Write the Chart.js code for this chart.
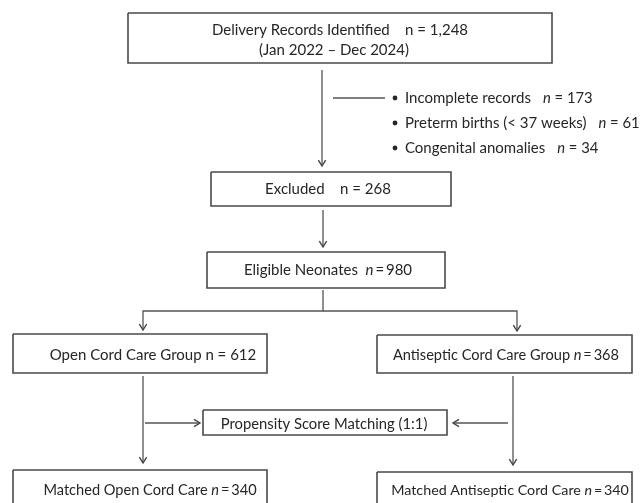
<!DOCTYPE html>
<html>
<head>
<meta charset="utf-8">
<script src="https://cdn.jsdelivr.net/npm/chart.js@4"></script>
<style>
  body{margin:0;background:#fff;}
  #wrap{width:640px;height:503px;}
</style>
</head>
<body>
<div id="wrap"><canvas id="flow" width="640" height="503"></canvas></div>
<script>
// flow stages and their counts
const stageLabels=["Delivery Records Identified","Excluded","Eligible Neonates","Open Cord Care Group","Antiseptic Cord Care Group","Propensity Score Matching (1:1)","Matched Open Cord Care","Matched Antiseptic Cord Care"];
const stageCounts=[1248,268,980,612,368,null,340,340];
const periodLabel="(Jan 2022 \u2013 Dec 2024)";
// exclusion reasons
const exclusionReasons=["Incomplete records","Preterm births (< 37 weeks)","Congenital anomalies"];
const exclusionCounts=[173,61,34];

// layout, in axis units (x 0..640, y 0..503 top-down)
const boxRects=[[128,13,552,63],[211,172,451,206],[207,252,445,288],[13,334,267,373],[377,335,632,373],[203,410,447,435],[13,470,267,522],[377,472,632,522]];
const textPos=[[340,30],[328,189],[328,270],[153,355],[506,355],[324,424],[150,490],[510,490]];
const textSize=[15,15,15,15,14.6,14.8,14.6,14.3];
const countGap=["    ","    ","  "," "," ","",  " "," "];
const italicN=[false,false,true,false,true,false,true,true];
const bulletX=395, bulletY=[98,123,148];
const connectors=[
  {pts:[[322,70],[322,166]],arrow:true},
  {pts:[[333,98],[385,98]],arrow:false},
  {pts:[[323,210],[323,247]],arrow:true},
  {pts:[[323,290],[323,311],[143,311],[143,330]],arrow:true},
  {pts:[[323,311],[517,311],[517,331]],arrow:true},
  {pts:[[143,376],[143,463]],arrow:true},
  {pts:[[145,423],[200,423]],arrow:true},
  {pts:[[513,376],[513,465]],arrow:true},
  {pts:[[508,423],[453,423]],arrow:true}
];

const FONT="Lato, 'Open Sans', sans-serif";
const TEXT="#262626";

const fmt=v=>v.toLocaleString("en-US");

const datasets=[];
boxRects.forEach(r=>{
  datasets.push({type:"line",data:[{x:r[0],y:r[1]},{x:r[2],y:r[1]},{x:r[2],y:r[3]},{x:r[0],y:r[3]},{x:r[0],y:r[1]}],
    borderColor:"#4a4a4a",borderWidth:1.6,pointRadius:0,tension:0,fill:false,borderJoinStyle:"miter"});
});
connectors.forEach(c=>{
  datasets.push({type:"line",data:c.pts.map(p=>({x:p[0],y:p[1]})),arrow:c.arrow,
    borderColor:"#555",borderWidth:1.3,pointRadius:0,tension:0,fill:false});
});

function setFont(ctx,it,size){ctx.font=(it?"italic ":"")+(size||15)+"px "+FONT;}

function drawRich(ctx,parts,cx,cy,size){
  // parts: [text, italic]
  let w=0;
  parts.forEach(p=>{setFont(ctx,p[1],size);w+=ctx.measureText(p[0]).width;});
  let x=cx-w/2;
  parts.forEach(p=>{setFont(ctx,p[1],size);ctx.fillText(p[0],x,cy);x+=ctx.measureText(p[0]).width;});
}

function countParts(i){
  const v=fmt(stageCounts[i]);
  if(italicN[i]) return [[countGap[i],false],["n",true],["\u2009=\u2009"+v,false]];
  return [[countGap[i]+"n = "+v,false]];
}

const flowPlugin={
  id:"flowText",
  afterDatasetsDraw(chart){
    const ctx=chart.ctx, xs=chart.scales.x, ys=chart.scales.y;
    const px=v=>xs.getPixelForValue(v), py=v=>ys.getPixelForValue(v);
    ctx.save();
    // arrowheads
    chart.data.datasets.forEach(ds=>{
      if(!ds.arrow) return;
      const n=ds.data.length, a=ds.data[n-2], b=ds.data[n-1];
      const x1=px(a.x),y1=py(a.y),x2=px(b.x),y2=py(b.y);
      const ang=Math.atan2(y2-y1,x2-x1), L=7, s=0.55;
      ctx.strokeStyle="#444";ctx.lineWidth=1.4;
      ctx.beginPath();
      ctx.moveTo(x2-L*Math.cos(ang-s),y2-L*Math.sin(ang-s));
      ctx.lineTo(x2,y2);
      ctx.lineTo(x2-L*Math.cos(ang+s),y2-L*Math.sin(ang+s));
      ctx.stroke();
    });
    // box texts
    ctx.fillStyle=TEXT;ctx.textBaseline="middle";ctx.textAlign="left";
    stageLabels.forEach((lab,i)=>{
      let parts=[[lab,false]];
      if(stageCounts[i]!=null) parts=parts.concat(countParts(i));
      drawRich(ctx,parts,px(textPos[i][0]),py(textPos[i][1]),textSize[i]);
    });
    drawRich(ctx,[[periodLabel,false]],px(334),py(50),15);
    // exclusion list
    exclusionReasons.forEach((r,i)=>{
      const y=py(bulletY[i]);
      ctx.beginPath();ctx.arc(px(bulletX),y,2.4,0,Math.PI*2);ctx.fill();
      setFont(ctx,false,15);
      const x0=px(bulletX+10);
      ctx.fillText(r,x0,y);
      const w=ctx.measureText(r).width;
      setFont(ctx,true,14.8);
      ctx.fillText("n",x0+w+12,y);
      const wn=ctx.measureText("n").width;
      setFont(ctx,false,14.8);
      ctx.fillText(" = "+exclusionCounts[i],x0+w+12+wn,y);
    });
    ctx.restore();
  }
};

new Chart(document.getElementById("flow"),{
  type:"scatter",
  data:{datasets:datasets},
  options:{
    responsive:false,animation:false,
    layout:{padding:0},
    plugins:{legend:{display:false},tooltip:{enabled:false}},
    scales:{
      x:{type:"linear",min:0,max:640,display:false},
      y:{type:"linear",min:0,max:503,reverse:true,display:false}
    },
    datasets:{line:{clip:false}}
  },
  plugins:[flowPlugin]
});
</script>
</body>
</html>
